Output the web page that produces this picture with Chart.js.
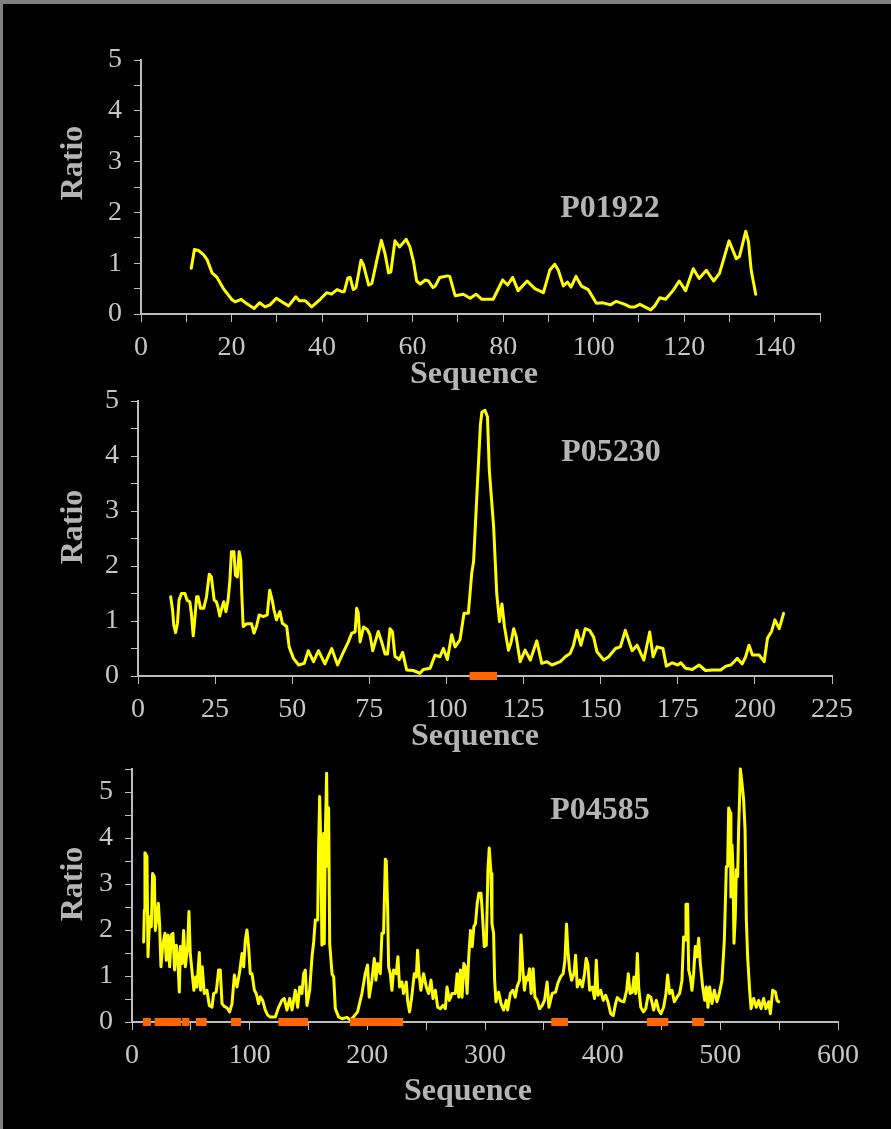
<!DOCTYPE html>
<html>
<head>
<meta charset="utf-8">
<script src="https://cdn.jsdelivr.net/npm/chart.js@4.4.1/dist/chart.umd.min.js"></script>
<style>
  html, body { margin: 0; padding: 0; background: #808080; }
  #page { position: relative; width: 891px; height: 1129px; background: #808080; overflow: hidden; }
  #page .bg { position: absolute; left: 3px; top: 4px; right: 0; bottom: 0; background: #000; }
  #page canvas { position: absolute; left: 0; top: 0; }
</style>
</head>
<body>
<div id="page">
  <div class="bg"></div>
  <canvas id="c1" width="891" height="1129"></canvas>
  <canvas id="c2" width="891" height="1129"></canvas>
  <canvas id="c3" width="891" height="1129"></canvas>
</div>
<script>
// ---- data: [sequence position, ratio] ----
const p01922Profile = [[11.1,0.90],[11.8,1.27],[12.7,1.25],[13.8,1.17],[14.6,1.07],[15.7,0.81],[16.8,0.72],[18.2,0.50],[20.1,0.28],[20.8,0.24],[22.1,0.29],[23.4,0.20],[25.0,0.11],[26.2,0.22],[27.4,0.14],[28.5,0.18],[29.9,0.31],[31.1,0.24],[32.6,0.16],[34.2,0.34],[35.0,0.26],[36.3,0.26],[37.7,0.14],[39.6,0.29],[41.0,0.42],[42.1,0.39],[43.3,0.48],[44.4,0.44],[44.9,0.44],[45.7,0.71],[46.2,0.72],[46.9,0.48],[47.5,0.52],[48.6,1.06],[49.1,0.98],[50.3,0.57],[51.0,0.60],[52.1,1.06],[53.1,1.45],[53.9,1.19],[54.7,0.81],[55.2,0.83],[56.1,1.44],[57.1,1.32],[58.6,1.47],[59.4,1.32],[60.2,1.03],[60.9,0.65],[61.7,0.59],[62.8,0.67],[63.5,0.65],[64.5,0.52],[65.0,0.55],[66.0,0.72],[67.7,0.75],[68.2,0.74],[69.4,0.36],[71.2,0.39],[72.7,0.31],[74.0,0.39],[75.3,0.29],[77.8,0.29],[79.9,0.67],[81.0,0.57],[82.1,0.72],[83.3,0.46],[85.3,0.65],[87.0,0.50],[88.9,0.42],[90.3,0.86],[91.4,0.98],[92.2,0.86],[93.3,0.55],[94.2,0.63],[95.0,0.53],[96.1,0.74],[97.3,0.55],[98.8,0.48],[100.6,0.21],[102.1,0.22],[103.7,0.18],[105.0,0.25],[106.9,0.19],[108.0,0.14],[109.1,0.14],[110.2,0.19],[111.3,0.14],[112.6,0.08],[113.5,0.16],[114.6,0.32],[115.9,0.29],[117.6,0.47],[118.9,0.65],[120.3,0.46],[122.0,0.89],[123.3,0.70],[124.9,0.86],[126.5,0.65],[127.8,0.80],[129.9,1.44],[131.5,1.09],[132.2,1.13],[133.6,1.63],[134.2,1.42],[134.8,0.86],[135.8,0.39]];

const p05230Profile = [[10.6,1.44],[11.2,1.20],[11.6,0.93],[12.2,0.79],[12.8,0.96],[13.3,1.38],[14.1,1.50],[15.2,1.50],[15.9,1.38],[16.8,1.35],[17.3,1.14],[17.9,0.73],[18.4,1.02],[19.0,1.44],[19.5,1.44],[20.3,1.23],[21.3,1.23],[22.2,1.44],[23.1,1.85],[23.8,1.80],[24.7,1.38],[25.4,1.35],[25.9,1.26],[26.5,1.09],[27.3,1.26],[27.8,1.35],[28.5,1.17],[29.2,1.38],[29.8,1.74],[30.3,2.26],[31.1,2.26],[31.6,1.83],[32.2,1.80],[32.8,2.26],[33.3,2.11],[33.6,1.56],[34.1,0.90],[35.2,0.95],[36.8,0.95],[37.6,0.78],[38.4,0.90],[39.3,1.11],[40.6,1.08],[41.9,1.11],[42.7,1.56],[43.5,1.38],[44.1,1.20],[44.9,1.02],[46.0,1.17],[46.8,0.96],[48.2,0.90],[49.0,0.53],[50.4,0.32],[52.1,0.20],[53.9,0.23],[55.2,0.46],[56.9,0.26],[58.5,0.46],[60.6,0.22],[62.8,0.50],[64.7,0.20],[66.4,0.41],[68.2,0.62],[69.3,0.78],[70.4,0.80],[70.9,1.23],[71.4,1.15],[72.0,0.62],[73.1,0.89],[74.4,0.84],[75.2,0.75],[76.1,0.46],[77.9,0.81],[79.0,0.62],[80.1,0.40],[80.9,0.40],[81.7,0.86],[82.5,0.80],[83.3,0.36],[84.7,0.30],[85.8,0.43],[87.1,0.11],[89.2,0.10],[91.4,0.05],[92.5,0.12],[94.7,0.14],[96.3,0.38],[97.9,0.35],[99.0,0.50],[100.3,0.30],[101.7,0.75],[102.8,0.53],[104.4,0.66],[105.7,1.14],[107.1,1.14],[108.2,1.87],[108.8,2.08],[109.9,3.32],[111.0,4.56],[111.5,4.80],[112.5,4.83],[113.3,4.71],[113.9,3.74],[115.3,2.71],[116.3,1.50],[117.2,0.99],[118.0,1.31],[118.8,0.90],[120.1,0.47],[120.9,0.60],[121.8,0.86],[122.6,0.72],[123.9,0.26],[125.5,0.47],[127.2,0.29],[129.3,0.64],[130.9,0.23],[132.6,0.26],[134.2,0.20],[136.9,0.26],[138.5,0.35],[140.1,0.41],[141.2,0.56],[142.3,0.83],[143.6,0.56],[145.0,0.86],[146.4,0.83],[147.7,0.71],[148.8,0.44],[151.0,0.29],[152.6,0.35],[154.8,0.50],[156.4,0.53],[158.0,0.83],[160.2,0.46],[161.8,0.56],[164.0,0.29],[165.9,0.80],[167.0,0.35],[168.3,0.53],[170.2,0.50],[171.3,0.18],[173.2,0.24],[175.0,0.20],[176.0,0.24],[177.5,0.14],[179.7,0.12],[181.9,0.20],[184.0,0.10],[186.2,0.11],[188.9,0.11],[190.6,0.18],[192.2,0.20],[194.3,0.32],[195.9,0.22],[197.0,0.35],[198.1,0.56],[199.2,0.38],[201.4,0.38],[203.0,0.26],[204.1,0.69],[205.4,0.81],[206.5,1.02],[207.9,0.86],[209.3,1.14]];

const p04585Profile = [[9.9,1.74],[10.5,2.43],[11.0,3.68],[12.7,3.60],[13.6,1.42],[15.0,2.29],[16.4,2.07],[17.5,3.23],[19.0,3.16],[19.8,1.99],[21.2,2.29],[22.4,2.58],[23.5,2.10],[24.6,1.20],[26.0,1.64],[28.0,1.93],[29.1,1.34],[30.6,1.89],[32.0,1.20],[33.4,1.89],[34.8,1.93],[36.2,1.13],[37.7,1.67],[39.0,1.34],[40.2,0.65],[41.1,1.64],[42.5,1.27],[43.9,1.99],[45.3,1.20],[47.3,1.64],[48.4,2.40],[49.5,1.49],[51.2,1.05],[52.6,0.69],[54.1,0.98],[55.2,0.76],[57.2,1.51],[58.3,0.69],[59.7,1.20],[61.4,0.62],[63.7,0.69],[65.7,0.36],[68.0,0.32],[69.4,0.62],[71.6,0.65],[73.6,1.13],[75.0,1.13],[76.5,0.40],[78.4,0.34],[80.7,0.31],[83.0,0.22],[85.0,0.40],[87.0,1.02],[89.2,0.76],[91.5,1.09],[93.5,1.49],[94.9,1.20],[96.3,1.78],[97.7,2.00],[99.1,1.64],[100.5,1.05],[102.0,1.05],[104.0,0.69],[105.6,0.62],[107.6,0.40],[109.0,0.55],[111.0,0.47],[113.3,0.26],[115.3,0.15],[117.5,0.11],[121.8,0.11],[124.6,0.32],[127.4,0.47],[129.4,0.51],[131.7,0.26],[134.0,0.51],[136.0,0.26],[138.8,0.69],[140.8,0.32],[142.5,0.76],[144.4,0.62],[145.9,1.05],[147.3,1.13],[148.7,0.36],[151.0,0.69],[153.0,1.42],[154.4,1.74],[155.8,2.22],[157.8,2.22],[158.6,3.81],[159.5,4.90],[160.6,3.67],[161.4,1.67],[162.9,4.10],[163.4,1.70],[164.3,4.07],[165.4,5.41],[166.3,3.38],[167.1,4.65],[168.0,1.71],[170.0,1.05],[171.4,0.98],[172.8,0.29],[175.6,0.11],[178.4,0.07],[182.7,0.10],[185.5,0.04],[188.3,0.11],[191.7,0.22],[195.4,0.62],[198.2,1.05],[200.2,1.24],[201.6,0.54],[203.9,0.91],[205.9,1.38],[207.3,0.91],[208.7,1.27],[211.0,1.05],[212.4,1.93],[213.8,1.93],[215.3,3.54],[216.1,3.50],[217.2,2.51],[218.1,1.20],[219.5,1.05],[220.9,0.69],[222.3,1.13],[224.6,1.05],[226.0,1.42],[227.4,0.76],[229.4,0.87],[230.8,0.62],[233.1,0.87],[234.2,0.47],[235.9,0.22],[237.9,0.58],[239.9,1.05],[241.6,0.98],[242.7,1.56],[243.9,1.05],[245.5,0.69],[247.8,1.05],[250.1,0.76],[252.1,0.62],[254.1,0.91],[255.8,0.51],[257.8,0.69],[259.8,0.32],[262.0,0.29],[264.3,0.36],[266.3,0.29],[267.7,0.76],[269.7,0.47],[272.0,0.62],[274.8,0.62],[276.3,1.05],[277.7,0.54],[279.1,1.13],[280.5,0.54],[282.0,1.27],[283.4,1.20],[284.8,0.62],[286.2,1.42],[287.7,1.99],[289.1,1.64],[290.5,2.07],[291.9,2.14],[293.4,2.58],[294.8,2.80],[296.6,2.80],[297.4,2.51],[299.4,1.64],[301.1,1.67],[302.5,3.31],[303.6,3.78],[305.1,3.23],[305.9,2.14],[307.3,1.93],[308.2,0.91],[309.3,0.44],[311.6,0.65],[313.6,0.40],[315.8,0.26],[318.1,0.47],[319.2,0.26],[321.5,0.62],[323.7,0.69],[325.7,0.54],[327.2,0.76],[329.4,0.91],[330.6,1.89],[332.0,1.20],[333.5,0.69],[335.2,0.98],[336.3,0.91],[337.8,1.16],[339.2,0.62],[340.9,1.16],[342.4,0.54],[344.3,0.47],[346.3,0.29],[348.6,0.36],[350.6,0.47],[352.8,0.87],[354.3,0.32],[357.1,0.62],[360.0,0.65],[361.9,0.84],[364.2,0.98],[366.4,1.05],[367.9,1.34],[369.3,2.13],[370.4,1.56],[371.9,1.13],[373.6,0.91],[375.6,1.05],[377.0,1.45],[378.4,0.76],[380.7,0.91],[382.7,0.76],[384.6,1.05],[386.0,1.38],[387.5,1.24],[388.9,0.69],[391.2,0.76],[393.1,0.51],[394.6,1.34],[396.0,0.58],[398.3,0.69],[400.5,0.47],[402.5,0.58],[404.5,0.44],[406.8,0.18],[409.0,0.14],[411.0,0.40],[412.4,0.53],[415.3,0.46],[418.1,0.44],[420.4,0.69],[421.8,1.05],[423.3,0.62],[425.2,0.65],[426.6,0.98],[428.1,0.62],[429.5,1.49],[430.6,0.76],[432.4,0.32],[434.6,0.22],[436.6,0.29],[438.6,0.58],[440.9,0.54],[443.3,0.26],[445.6,0.47],[447.5,0.26],[449.5,0.18],[451.8,0.32],[453.8,0.62],[455.2,1.02],[456.9,0.62],[458.9,0.69],[460.9,0.44],[463.2,0.54],[465.4,0.62],[467.4,0.91],[468.8,1.85],[470.0,1.78],[470.8,2.56],[472.2,2.56],[473.1,1.13],[474.5,0.98],[475.9,0.69],[477.3,1.05],[478.7,1.64],[480.2,1.42],[481.6,1.82],[483.0,1.27],[485.0,0.76],[486.7,0.47],[488.1,0.76],[489.5,0.32],[490.9,0.76],[492.9,0.40],[494.9,0.69],[497.1,0.44],[499.1,0.62],[501.4,0.91],[503.4,1.78],[505.1,3.38],[506.2,3.38],[507.1,4.65],[508.5,4.55],[509.0,2.72],[509.9,3.85],[510.7,3.38],[511.6,1.71],[512.7,2.29],[513.6,3.31],[514.7,3.16],[515.6,4.25],[516.4,4.90],[517.0,5.50],[518.4,5.19],[519.8,4.83],[521.0,4.18],[522.1,2.22],[523.2,1.42],[524.9,0.69],[526.1,0.29],[528.3,0.51],[530.6,0.32],[532.6,0.47],[534.6,0.29],[536.8,0.51],[538.8,0.29],[541.1,0.44],[542.5,0.18],[544.5,0.69],[546.8,0.65],[548.2,0.47],[549.6,0.44]];

// marked regions along the sequence (orange bars on the axis)
const p01922Regions = [];
const p05230Regions = [[107.5,116.4]];
const p04585Regions = [[9.2,16.1],[19.2,41.6],[42.5,48.8],[54.3,63.5],[84.1,92.6],[124.4,149.7],[185.2,230.5],[356.3,370.5],[437.6,455.8],[476.0,486.4]];

const AXIS = '#bdbdbd';
const TICK_TEXT = '#c6c6c6';
const TITLE_TEXT = '#b4b4b4';
const YELLOW = '#ffff00';
const ORANGE = '#ff6600';
const SERIF = "'Liberation Serif', 'Times New Roman', serif";

// bold captions (axis titles, protein ids); "box" paints the black title box behind
const captions = {
  id: 'captions',
  afterDraw(chart, args, opts){
    const ctx = chart.ctx;
    (opts.items || []).forEach(t=>{
      ctx.save();
      if (t.box) {
        ctx.fillStyle = '#000';
        ctx.fillRect(t.x - t.box[0]/2, t.y - t.box[1]/2, t.box[0], t.box[1]);
      }
      ctx.font = 'bold 32px ' + SERIF;
      ctx.fillStyle = TITLE_TEXT;
      ctx.textAlign = 'center';
      ctx.textBaseline = 'middle';
      ctx.translate(t.x, t.y);
      if (t.rotate) ctx.rotate(-Math.PI/2);
      ctx.fillText(t.text, 0, 0);
      ctx.restore();
    });
  }
};

function regionData(regions){
  const out = [];
  regions.forEach(([a,b])=>{ out.push([a,0]); out.push([b,0]); out.push([b,null]); });
  return out;
}

function makePanel(id, o){
  const ctx = document.getElementById(id).getContext('2d');
  return new Chart(ctx, {
    type: 'line',
    data: {
      datasets: [{
        data: regionData(o.regions),
        borderColor: ORANGE,
        borderWidth: 8,
        borderCapStyle: 'butt',
        pointRadius: 0,
        spanGaps: false,
        clip: false
      },{
        data: o.profile,
        borderColor: YELLOW,
        borderWidth: 3,
        borderJoinStyle: 'round',
        borderCapStyle: 'round',
        pointRadius: 0,
        tension: 0,
        clip: false
      }]
    },
    options: {
      responsive: false,
      animation: false,
      devicePixelRatio: 1,
      layout: { padding: o.pad },
      plugins: {
        legend: { display: false },
        tooltip: { enabled: false },
        captions: { items: o.captions }
      },
      scales: {
        x: {
          type: 'linear', min: 0, max: o.xMax,
          afterFit: s => { s.height = 50; },
          grid: { drawOnChartArea: false, drawTicks: true, tickLength: 8, color: AXIS, lineWidth: 1 },
          border: { display: true, color: AXIS, width: 2 },
          ticks: {
            stepSize: o.xStep, autoSkip: false, maxRotation: 0, padding: 9,
            color: TICK_TEXT, font: { family: SERIF, size: 28 },
            callback: v => (v % o.xLabelEvery === 0 ? v : '')
          }
        },
        y: {
          min: 0, max: o.yMax,
          afterFit: s => { s.width = o.yWidth; },
          grid: { drawOnChartArea: false, drawTicks: true, tickLength: 7, color: AXIS, lineWidth: 1 },
          border: { display: true, color: AXIS, width: 2 },
          ticks: {
            stepSize: 0.5, autoSkip: false, padding: 12,
            color: TICK_TEXT, font: { family: SERIF, size: 28 },
            callback: v => (Number.isInteger(v) ? v : '')
          }
        }
      }
    },
    plugins: [captions]
  });
}

makePanel('c1', {
  profile: p01922Profile, regions: p01922Regions,
  xMax: 150, xStep: 10, xLabelEvery: 20, yMax: 5,
  yWidth: 141, pad: { left: 0, right: 71, top: 60, bottom: 765 },
  captions: [
    { text: 'Ratio', x: 74, y: 163, rotate: true },
    { text: 'Sequence', x: 474, y: 375, box: [156, 42] },
    { text: 'P01922', x: 610, y: 209 }
  ]
});

makePanel('c2', {
  profile: p05230Profile, regions: p05230Regions,
  xMax: 225, xStep: 25, xLabelEvery: 25, yMax: 5,
  yWidth: 138, pad: { left: 0, right: 59, top: 401, bottom: 403 },
  captions: [
    { text: 'Ratio', x: 74, y: 527, rotate: true },
    { text: 'Sequence', x: 475, y: 737 },
    { text: 'P05230', x: 611, y: 453 }
  ]
});

makePanel('c3', {
  profile: p04585Profile, regions: p04585Regions,
  xMax: 600, xStep: 50, xLabelEvery: 100, yMax: 5.5,
  yWidth: 132, pad: { left: 0, right: 53, top: 769, bottom: 57 },
  captions: [
    { text: 'Ratio', x: 74, y: 884, rotate: true },
    { text: 'Sequence', x: 468, y: 1092 },
    { text: 'P04585', x: 600, y: 811 }
  ]
});
</script>
</body>
</html>
